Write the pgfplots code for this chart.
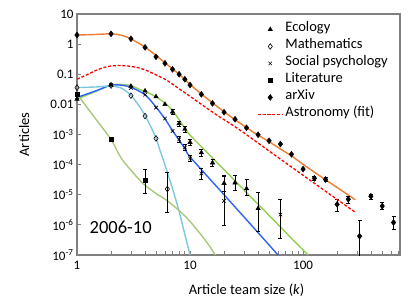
\documentclass[border=0pt]{standalone}
\usepackage{fontspec}
\setmainfont{Carlito}
\usepackage{pgfplots}
\pgfplotsset{compat=1.18}
\usepackage{pgfplotstable}
\definecolor{corange}{RGB}{237,125,49}
\definecolor{cgreen}{RGB}{146,208,80}
\definecolor{cblue}{RGB}{45,100,245}
\definecolor{clblue}{RGB}{125,200,225}
\definecolor{colive}{RGB}{170,200,125}
\definecolor{cframe}{RGB}{128,128,128}

% fitted curves
\pgfplotstableread{
x y
1 2.0
1.5 2.1
2 2.2
2.5 1.95
3 1.5
4 0.80
5 0.42
6 0.24
7 0.15
8 0.10
10 0.046
12.6 0.022
15.8 0.0112
20 5.7e-3
25 3.1e-3
32 1.65e-3
40 9.5e-4
50 5.8e-4
63 3.3e-4
80 1.9e-4
100 1.02e-4
150 3.6e-5
200 1.74e-5
290 6.8e-6
}\arxivfit
\pgfplotstableread{
x y
1 0.069
1.25 0.10
1.5 0.138
1.75 0.17
2 0.188
2.4 0.195
2.75 0.19
3.2 0.175
3.6 0.16
4.2 0.13
4.7 0.107
5.4 0.083
6.2 0.064
8 0.033
10 0.0185
12.3 0.0107
17 4.6e-3
27.7 1.4e-3
65 1.4e-4
290 2.6e-6
}\astrofit
\pgfplotstableread{
x y
1 0.015
1.5 0.028
2 0.044
2.5 0.046
3 0.042
3.6 0.031
4 0.027
5 0.018
6 0.011
7 6.3e-3
8 3.1e-3
9 1.6e-3
10 9.5e-4
12.6 3.95e-4
15.8 1.66e-4
20 6.8e-5
30 1.44e-5
50 2.07e-6
80 3.4e-7
111 1e-7
}\ecofit
\pgfplotstableread{
x y
1 0.017
1.5 0.029
2 0.044
2.5 0.043
3 0.037
4 0.021
5 8.2e-3
6 3.3e-3
7 1.35e-3
8 6.5e-4
9 3.4e-4
10 1.8e-4
20 1.0e-5
40 5.5e-7
60 1e-7
}\socfit
\pgfplotstableread{
x y
1 0.036
1.5 0.038
2 0.041
2.5 0.034
3 0.020
3.5 9.5e-3
4 4.3e-3
4.5 1.8e-3
5 7.6e-4
5.42 3e-4
6 9.8e-5
7 1.6e-5
8 2.8e-6
9 4.8e-7
10 1e-7
}\mathfit
\pgfplotstableread{
x y
1 0.022
1.5 2.9e-3
2 6.9e-4
2.25 3.0e-4
2.5 1.5e-4
3 6.5e-5
3.86 2.3e-5
5 1.1e-5
6.2 6.6e-6
8.16 2.8e-6
10 1.3e-6
12.3 5.1e-7
15 1.9e-7
16.7 1e-7
}\litfit

% data points
\pgfplotstableread{
x y
1 0.015
2 0.044
3 0.040
4 0.028
5 0.018
6 0.010
}\ecoA
\pgfplotstableread{
x y ep em
7 5.6e-3 1.2e-3 1.0e-3
8 2.3e-3 5e-4 4e-4
9 1.5e-3 3.5e-4 3e-4
10 5.5e-4 1.5e-4 1.2e-4
12.6 2.5e-4 8e-5 6e-5
15.8 1.15e-4 4e-5 3e-5
20 2.4e-5 2.1e-5 1.1e-5
25 2.5e-5 1.8e-5 1.1e-5
31.6 1.6e-5 1.6e-5 6.2e-6
40 3.5e-6 8.5e-6 2.9e-6
}\ecoB
\pgfplotstableread{
x y
1 0.036
2 0.042
3 0.0195
4 4.1e-3
5 7.4e-4
}\mathA
\pgfplotstableread{
x y ep em
6.3 1.55e-5 3.95e-5 1.28e-5
}\mathB
\pgfplotstableread{
x y
1 0.017
2 0.044
3 0.035
4 0.021
5 7.8e-3
6 3.4e-3
7 1.3e-3
}\socA
\pgfplotstableread{
x y ep em
8 6.9e-4 1.5e-4 1.2e-4
9 3.7e-4 9e-5 7e-5
10 1.6e-4 4.5e-5 3.5e-5
12.6 5.1e-5 2.5e-5 1.8e-5
20 6.3e-6 3.37e-5 5.3e-6
63 2.2e-6 4.7e-6 1.83e-6
}\socB
\pgfplotstableread{
x y
1 0.022
2 6.9e-4
}\litA
\pgfplotstableread{
x y ep em
4 3.1e-5 3.9e-5 2.0e-5
}\litB
\pgfplotstableread{
x y
1 2.0
2 2.2
3 1.5
4 0.78
5 0.38
6 0.23
7 0.146
8 0.10
9 0.068
10 0.044
12.6 0.0215
15.8 0.0108
20 5.5e-3
25 3.2e-3
31.6 1.67e-3
40 9.8e-4
50 6.2e-4
63 4.8e-4
79 2.2e-4
100 7.1e-5
}\arxA
\pgfplotstableread{
x y ep em
126 3.5e-5 6e-6 5e-6
158 3.2e-5 5e-6 4e-6
200 4.8e-6 2.3e-6 1.9e-6
251 7.1e-6 1.8e-6 1.8e-6
316 4.2e-7 1.03e-6 4.1e-7
398 8.9e-6 1.8e-6 1.8e-6
501 4.2e-6 1.4e-6 0.9e-6
631 1.2e-6 0.8e-6 0.46e-6
}\arxB

\begin{document}
\begin{tikzpicture}
\begin{axis}[
  scale only axis, width=323pt, height=241pt,
  xmode=log, ymode=log,
  xmin=1, xmax=720, ymin=1e-7, ymax=10,
  axis line style={cframe, line width=1.2pt},
  xtick={1,10,100}, xticklabels={1,10,100},
  minor xtick={2,3,4,5,6,7,8,9,20,30,40,50,60,70,80,90,200,300,400,500,600,700},
  ytick={1e-7,1e-6,1e-5,1e-4,1e-3,0.01,0.1,1,10},
  yticklabels={10\textsuperscript{-7},10\textsuperscript{-6},10\textsuperscript{-5},10\textsuperscript{-4},10\textsuperscript{-3},0.01,0.1,1,10},
  minor y tick style={draw=none},
  tick align=inside, xtick pos=left, ytick pos=left,
  major tick length=4.5pt, minor tick length=4pt,
  tick style={cframe, line width=0.8pt},
  tick label style={font=\fontsize{13}{15}\selectfont},
  xticklabel style={yshift=-3pt},
  xlabel={Article team size (\textit{k})}, ylabel={Articles},
  every axis x label/.style={at={(axis description cs:0.525,-0.145)},anchor=center,font=\fontsize{14.5}{17}\selectfont},
  every axis y label/.style={at={(axis description cs:-0.164,0.5)},rotate=90,anchor=center,font=\fontsize{14.5}{17}\selectfont},
  legend image code/.code={\draw[mark repeat=2,mark phase=2,#1] plot coordinates {(0pt,0pt) (12.5pt,0pt) (25pt,0pt)};},
  legend style={at={(axis description cs:0.557,0.972)}, anchor=north west, draw=none, fill=none,
    inner sep=0pt, font=\fontsize{14.5}{17}\selectfont,
    nodes={inner sep=0pt, text height=11pt, text depth=6pt}, column sep=2pt},
  legend cell align=left,
  error bars/error bar style={black, line width=0.6pt},
  error bars/error mark options={rotate=90, mark size=2pt, black, line width=0.6pt},
]
\coordinate (ll) at (rel axis cs:0,0);
\coordinate (ur) at (rel axis cs:1,1);
% curves
\addplot[forget plot, corange, line width=1.4pt, smooth, tension=0.4] table {\arxivfit};
\addplot[forget plot, cgreen, line width=1.4pt, smooth, tension=0.4] table {\ecofit};
\addplot[forget plot, cblue, line width=1.4pt, smooth, tension=0.4] table {\socfit};
\addplot[forget plot, clblue, line width=1.4pt, smooth, tension=0.4] table {\mathfit};
\addplot[forget plot, colive, line width=1.4pt, smooth, tension=0.4] table {\litfit};
% points with error bars
\addplot[forget plot, only marks, mark=triangle*, mark size=2.6pt, black,
  error bars/.cd, y dir=both, y explicit] table[x=x,y=y,y error plus=ep,y error minus=em] {\ecoB};
\addplot[forget plot, only marks, mark=diamond, mark size=2.8pt, black, mark options={line width=0.6pt},
  error bars/.cd, y dir=both, y explicit] table[x=x,y=y,y error plus=ep,y error minus=em] {\mathB};
\addplot[forget plot, only marks, mark=x, mark size=2.5pt, black, mark options={line width=0.6pt},
  error bars/.cd, y dir=both, y explicit] table[x=x,y=y,y error plus=ep,y error minus=em] {\socB};
\addplot[forget plot, only marks, mark=square*, mark size=2pt, black,
  error bars/.cd, y dir=both, y explicit] table[x=x,y=y,y error plus=ep,y error minus=em] {\litB};
\addplot[forget plot, only marks, mark=diamond*, mark size=3pt, black,
  error bars/.cd, y dir=both, y explicit] table[x=x,y=y,y error plus=ep,y error minus=em] {\arxB};
% legend series
\addplot[only marks, mark=triangle*, mark size=2.6pt, black] table {\ecoA};
\addlegendentry{Ecology}
\addplot[only marks, mark=diamond, mark size=2.8pt, black, mark options={line width=0.6pt}] table {\mathA};
\addlegendentry{Mathematics}
\addplot[only marks, mark=x, mark size=2.5pt, black, mark options={line width=0.6pt}] table {\socA};
\addlegendentry{Social psychology}
\addplot[only marks, mark=square*, mark size=2pt, black] table {\litA};
\addlegendentry{Literature}
\addplot[only marks, mark=diamond*, mark size=3pt, black] table {\arxA};
\addlegendentry{arXiv}
\addplot[red, line width=1.3pt, dash pattern=on 3pt off 1.8pt, smooth, tension=0.4] table {\astrofit};
\addlegendentry{Astronomy (fit)}
\node[anchor=west, inner sep=0pt, font=\fontsize{18.5}{20}\selectfont] at (axis cs:1.29,8.3e-7) {2006-10};
\end{axis}
\pgfresetboundingbox
\path[use as bounding box] ([shift={(-77pt,-53pt)}]ll) rectangle ([shift={(16pt,14pt)}]ur);
\end{tikzpicture}
\end{document}
